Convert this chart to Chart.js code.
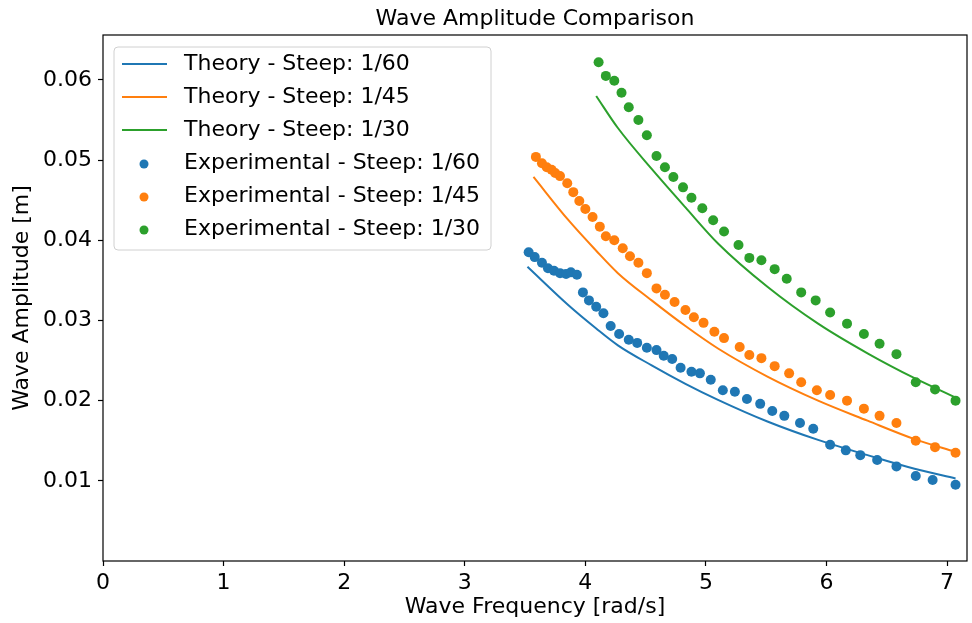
<!DOCTYPE html>
<html>
<head>
<meta charset="utf-8">
<script src="https://cdn.jsdelivr.net/npm/chart.js@4.4.1/dist/chart.umd.min.js"></script>
<style>
  html, body { margin: 0; padding: 0; background: #fff; }
  #wrap { width: 972px; height: 623px; }
</style>
</head>
<body>
<div id="wrap"><canvas id="chart"></canvas></div>
<script>
// theory curves
var theory60X = [3.52, 3.86, 4.09, 4.27, 4.55, 4.83, 5.10, 5.51, 5.93, 6.34, 6.73, 7.07];
var theory60Y = [0.0367, 0.0319, 0.0290, 0.0269, 0.0244, 0.0221, 0.0201, 0.0174, 0.0151, 0.0132, 0.0115, 0.0103];
var theory45X = [3.57, 3.86, 4.09, 4.27, 4.55, 4.83, 5.10, 5.51, 5.93, 6.34, 6.73, 7.07];
var theory45Y = [0.0479, 0.0425, 0.0387, 0.0359, 0.0325, 0.0293, 0.0265, 0.0230, 0.0200, 0.0175, 0.0152, 0.0136];
var theory30X = [4.09, 4.27, 4.55, 4.83, 5.10, 5.51, 5.93, 6.34, 6.73, 7.07];
var theory30Y = [0.0580, 0.0540, 0.0489, 0.0441, 0.0396, 0.0342, 0.0296, 0.0259, 0.0228, 0.0204];

// experimental points
var exp60X = [3.53, 3.58, 3.64, 3.69, 3.74, 3.79, 3.84, 3.88, 3.93, 3.98, 4.03, 4.09, 4.15, 4.21,
  4.28, 4.36, 4.43, 4.51, 4.59, 4.65, 4.72, 4.79, 4.88, 4.95, 5.04, 5.14, 5.24, 5.34, 5.45, 5.55,
  5.65, 5.78, 5.89, 6.03, 6.16, 6.28, 6.42, 6.58, 6.74, 6.88, 7.07];
var exp60Y = [0.0385, 0.0379, 0.0372, 0.0365, 0.0362, 0.0359, 0.0358, 0.0360, 0.0357, 0.0335,
  0.0325, 0.0317, 0.0309, 0.0293, 0.0283, 0.0276, 0.0272, 0.0266, 0.0263, 0.0256, 0.0252, 0.0241,
  0.0236, 0.0234, 0.0226, 0.0213, 0.0211, 0.0202, 0.0196, 0.0187, 0.0181, 0.0172, 0.0165, 0.0145,
  0.0138, 0.0132, 0.0126, 0.0118, 0.0106, 0.0101, 0.0095];
var exp45X = [3.59, 3.64, 3.68, 3.72, 3.75, 3.79, 3.85, 3.90, 3.95, 4.00, 4.06, 4.12, 4.17, 4.24,
  4.31, 4.37, 4.44, 4.51, 4.59, 4.66, 4.74, 4.83, 4.90, 4.98, 5.07, 5.15, 5.28, 5.36, 5.46, 5.57,
  5.69, 5.79, 5.92, 6.03, 6.17, 6.31, 6.44, 6.58, 6.74, 6.90, 7.07];
var exp45Y = [0.0504, 0.0496, 0.0491, 0.0488, 0.0484, 0.0480, 0.0471, 0.0460, 0.0449, 0.0439,
  0.0429, 0.0417, 0.0405, 0.0400, 0.0390, 0.0380, 0.0372, 0.0359, 0.0340, 0.0332, 0.0323, 0.0313,
  0.0304, 0.0297, 0.0286, 0.0278, 0.0267, 0.0257, 0.0253, 0.0243, 0.0234, 0.0223, 0.0213, 0.0207,
  0.0200, 0.0190, 0.0181, 0.0172, 0.0150, 0.0142, 0.0135];
var exp30X = [4.11, 4.17, 4.24, 4.30, 4.36, 4.44, 4.51, 4.59, 4.66, 4.73, 4.81, 4.88, 4.97, 5.06,
  5.15, 5.27, 5.36, 5.46, 5.57, 5.67, 5.79, 5.91, 6.03, 6.17, 6.31, 6.44, 6.58, 6.74, 6.90, 7.07];
var exp30Y = [0.0622, 0.0605, 0.0599, 0.0584, 0.0566, 0.0550, 0.0531, 0.0505, 0.0491, 0.0479,
  0.0466, 0.0453, 0.0440, 0.0425, 0.0411, 0.0394, 0.0378, 0.0375, 0.0364, 0.0352, 0.0335, 0.0325,
  0.0310, 0.0296, 0.0283, 0.0271, 0.0258, 0.0223, 0.0214, 0.0200];

var xTicks = [0, 1, 2, 3, 4, 5, 6, 7];
var yTicks = [0.01, 0.02, 0.03, 0.04, 0.05, 0.06];

var blue = '#1f77b4', orange = '#ff7f0e', green = '#2ca02c';
var fontFamily = "'DejaVu Sans', sans-serif";
var fontSize = 22;
var chartTitle = 'Wave Amplitude Comparison';

function pts(xs, ys) {
  return xs.map(function(x, i) { return {x: x, y: ys[i]}; });
}
function lineSet(label, xs, ys, color) {
  return {label: label, data: pts(xs, ys), showLine: true, borderColor: color, backgroundColor: color,
    borderWidth: 2, pointRadius: 0, fill: false, cubicInterpolationMode: 'monotone', kind: 'line'};
}
function dotSet(label, xs, ys, color) {
  return {label: label, data: pts(xs, ys), showLine: false, borderColor: color, backgroundColor: color,
    pointRadius: 5, pointBorderWidth: 0, kind: 'dot'};
}

// matplotlib style frame round the plot, title centred over the axes
var framePlugin = {
  id: 'frame',
  afterDraw: function(chart) {
    var a = chart.chartArea, ctx = chart.ctx;
    ctx.save();
    ctx.strokeStyle = '#000';
    ctx.lineWidth = 1.2;
    ctx.strokeRect(a.left, a.top, a.right - a.left, a.bottom - a.top);
    ctx.fillStyle = '#000';
    ctx.font = fontSize + 'px ' + fontFamily;
    ctx.textAlign = 'center';
    ctx.textBaseline = 'middle';
    ctx.fillText(chartTitle, (a.left + a.right) / 2, 19);
    ctx.restore();
  }
};

// legend boxed inside the plot, upper left
var insideLegend = {
  id: 'insideLegend',
  afterDraw: function(chart) {
    var ctx = chart.ctx, a = chart.chartArea;
    var bx = a.left + 11, by = a.top + 12, bw = 377, bh = 203;
    ctx.save();
    ctx.beginPath();
    ctx.roundRect(bx, by, bw, bh, 4);
    ctx.fillStyle = 'rgba(255,255,255,0.8)';
    ctx.fill();
    ctx.strokeStyle = '#d0d0d0';
    ctx.lineWidth = 1;
    ctx.stroke();
    ctx.font = fontSize + 'px ' + fontFamily;
    ctx.textBaseline = 'middle';
    chart.data.datasets.forEach(function(ds, i) {
      var cy = by + 17 + i * 33;
      if (ds.kind === 'line') {
        ctx.strokeStyle = ds.borderColor;
        ctx.lineWidth = 2;
        ctx.beginPath();
        ctx.moveTo(bx + 8, cy);
        ctx.lineTo(bx + 53, cy);
        ctx.stroke();
      } else {
        ctx.fillStyle = ds.backgroundColor;
        ctx.beginPath();
        ctx.arc(bx + 30, cy + 1, 4.5, 0, Math.PI * 2);
        ctx.fill();
      }
      ctx.fillStyle = '#000';
      ctx.fillText(ds.label, bx + 70, cy);
    });
    ctx.restore();
  }
};

var ctx = document.getElementById('chart').getContext('2d');
var myChart = new Chart(ctx, {
  type: 'scatter',
  data: {
    datasets: [
      lineSet('Theory - Steep: 1/60', theory60X, theory60Y, blue),
      lineSet('Theory - Steep: 1/45', theory45X, theory45Y, orange),
      lineSet('Theory - Steep: 1/30', theory30X, theory30Y, green),
      dotSet('Experimental - Steep: 1/60', exp60X, exp60Y, blue),
      dotSet('Experimental - Steep: 1/45', exp45X, exp45Y, orange),
      dotSet('Experimental - Steep: 1/30', exp30X, exp30Y, green)
    ]
  },
  options: {
    responsive: true,
    maintainAspectRatio: false,
    animation: false,
    layout: {padding: {left: 0, right: 2, top: 35, bottom: 0}},
    plugins: {
      legend: {display: false},
      tooltip: {enabled: false},
      title: {display: false}
    },
    scales: {
      x: {
        type: 'linear',
        min: 0,
        max: 7.165,
        afterBuildTicks: function(scale) {
          scale.ticks = xTicks.map(function(v) { return {value: v}; });
        },
        afterFit: function(scale) { scale.height = 62; },
        border: {display: false},
        grid: {drawOnChartArea: false, drawTicks: true, tickLength: 5, color: '#000', tickWidth: 1.2},
        ticks: {color: '#000', padding: 4, maxRotation: 0,
          font: {family: fontFamily, size: fontSize},
          callback: function(v) { return String(v); }},
        title: {display: true, text: 'Wave Frequency [rad/s]', color: '#000',
          font: {family: fontFamily, size: fontSize}, padding: {top: 0, bottom: 3}}
      },
      y: {
        type: 'linear',
        min: 0,
        max: 0.0656,
        afterBuildTicks: function(scale) {
          scale.ticks = yTicks.map(function(v) { return {value: v}; });
        },
        afterFit: function(scale) { scale.width = 103; },
        border: {display: false},
        grid: {drawOnChartArea: false, drawTicks: true, tickLength: 5, color: '#000', tickWidth: 1.2},
        ticks: {color: '#000', padding: 6,
          font: {family: fontFamily, size: fontSize},
          callback: function(v) { return v.toFixed(2); }},
        title: {display: true, text: 'Wave Amplitude [m]', color: '#000',
          font: {family: fontFamily, size: fontSize}, padding: {top: 9, bottom: 0}}
      }
    }
  },
  plugins: [framePlugin, insideLegend]
});
</script>
</body>
</html>
